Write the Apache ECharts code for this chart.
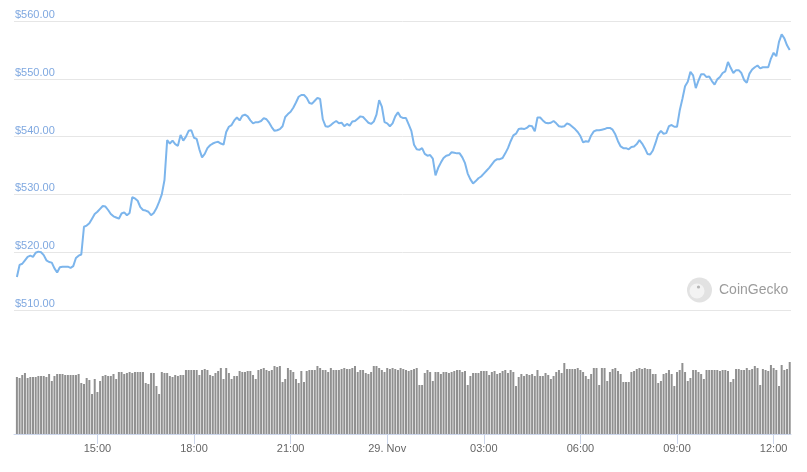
<!DOCTYPE html>
<html><head><meta charset="utf-8">
<script src="https://cdn.jsdelivr.net/npm/echarts@6.0.0/dist/echarts.min.js"></script>
<style>html,body{margin:0;padding:0;background:#fff}#c{width:807px;height:472px}</style>
</head><body><div id="c"></div>
<script>
// Time of first sample: 28 Nov 12:30 (hours), 5-minute samples
const startHour = 12.5;
const stepMinutes = 5;

const prices = [
515.7,517.8,518.0,518.6,519.2,519.4,519.2,519.9,520.1,520.0,
519.5,518.6,518.3,518.2,517.2,516.5,517.4,517.5,517.5,517.5,
517.3,517.6,519.0,519.4,519.6,524.4,524.6,525.0,525.8,526.6,
527.0,527.5,528.0,527.9,527.3,526.6,526.2,526.0,525.8,526.7,
526.9,526.4,526.8,529.5,529.3,528.9,527.8,527.3,527.2,527.0,
526.4,526.8,527.6,528.7,530.0,532.5,539.4,538.8,539.3,538.7,
538.4,540.3,539.3,540.0,541.0,541.1,539.8,539.6,537.8,536.4,
537.0,538.0,538.5,538.8,539.0,539.1,538.8,538.6,540.8,541.7,
542.0,542.8,543.3,542.8,543.6,543.8,543.5,542.8,542.3,542.5,
542.5,542.7,543.2,543.0,542.4,541.6,541.0,541.1,541.3,541.8,
543.4,543.9,544.3,545.0,545.9,546.9,547.2,547.2,546.7,545.8,
545.7,546.2,546.7,546.5,543.0,541.8,541.7,542.0,542.4,542.7,
542.3,542.4,541.8,542.2,541.9,542.6,542.7,543.1,543.5,543.4,
542.9,542.4,542.2,542.6,543.8,546.3,545.2,542.5,542.3,541.8,
542.3,543.5,544.2,543.4,543.2,543.2,542.1,541.0,538.6,537.8,
537.7,538.0,537.0,536.7,536.8,536.2,533.3,534.6,535.5,536.3,
536.7,536.8,537.3,537.2,537.1,537.1,536.4,535.4,533.6,532.6,
531.9,532.3,532.8,533.1,533.6,534.1,534.6,535.2,535.8,536.1,
536.1,536.3,537.1,538.0,539.2,540.2,540.5,541.3,541.4,541.3,
541.5,541.9,541.8,540.9,543.3,543.3,542.8,542.4,542.3,542.4,
542.7,542.3,541.8,541.7,541.8,542.3,542.1,541.7,541.3,540.8,
540.1,539.0,539.2,539.1,540.2,540.9,541.1,541.1,541.2,541.3,
541.5,541.5,541.2,540.4,539.2,538.3,538.0,538.0,537.8,538.2,
538.3,538.7,539.4,538.8,538.0,537.0,536.9,537.6,538.9,540.4,
541.0,540.5,540.6,541.8,542.0,541.7,541.7,544.5,546.5,548.7,
549.5,551.2,550.6,548.4,549.7,550.8,550.8,550.3,550.4,549.6,
549.0,549.9,550.3,551.0,551.3,552.9,551.9,551.0,551.5,551.5,
551.0,549.8,549.3,550.9,551.6,552.0,552.3,551.8,552.0,552.0,
552.0,553.5,554.5,553.9,556.4,557.7,557.0,555.8,555.0
];

const volumes = [
57,56,59,61,56,57,57,57,58,58,58,57,
60,53,58,60,60,60,59,59,59,59,59,60,
51,50,56,54,40,55,42,53,58,59,58,58,
60,55,62,62,60,61,62,61,62,62,62,62,
51,50,61,61,48,40,62,61,61,58,57,59,
58,59,59,64,64,64,64,64,59,64,65,64,
59,58,61,63,66,55,66,61,55,58,58,63,
62,62,63,63,59,55,64,65,66,64,63,64,
68,67,68,52,55,66,64,62,55,51,63,52,
63,64,64,64,68,66,64,64,62,66,64,64,
64,65,66,65,65,66,68,62,64,64,61,60,
62,68,68,66,64,62,66,65,66,65,64,
66,65,64,63,64,65,66,49,49,61,64,62,
53,62,62,60,62,62,61,62,63,64,64,62,
63,49,58,61,61,61,63,63,63,59,62,63,
60,61,63,64,61,64,62,48,57,60,58,60,
59,60,58,64,58,58,61,59,55,58,62,64,
61,71,65,65,65,65,66,64,62,58,55,60,
66,66,49,66,66,53,62,65,66,63,60,52,
52,52,62,63,65,66,65,66,65,65,60,60,
51,53,60,61,64,60,48,62,64,71,62,53,
56,64,64,62,60,55,64,64,64,64,64,63,
64,64,63,52,55,65,65,64,64,66,64,65,
68,66,49,65,64,63,69,66,64,48,69,64,
65,72
];

const tickHours = [15, 18, 21, 24, 27, 30, 33, 36];
const priceMin = 510, priceMax = 560, priceStep = 10;

const hourAt = i => startHour + i * stepMinutes / 60;
const priceData = prices.map((p, i) => [hourAt(i), p]);
const volumeData = volumes.map((v, i) => [hourAt(i), v]);

const xMin = 12.41, xMax = 36.54;
const fontFam = '"Liberation Sans", Arial, sans-serif';

function hourLabel(h) {
  if (h === 24) return '29. Nov';
  return String(h % 24).padStart(2, '0') + ':00';
}

const chart = echarts.init(document.getElementById('c'), null, {renderer: 'canvas'});
chart.setOption({
  animation: false,
  backgroundColor: '#ffffff',
  grid: [
    {left: 14, right: 16, top: 21, height: 289},
    {left: 14, right: 16, top: 359, height: 75}
  ],
  xAxis: [
    {gridIndex: 0, type: 'value', min: xMin, max: xMax, show: false},
    {gridIndex: 1, type: 'value', min: xMin, max: xMax,
     axisLine: {show: true, lineStyle: {color: '#ccd6eb', width: 1}},
     axisTick: {show: true, customValues: tickHours, length: 10, lineStyle: {color: '#ccd6eb'}},
     axisLabel: {customValues: tickHours, formatter: hourLabel, color: '#666666',
                 fontSize: 11, fontFamily: fontFam, margin: 9},
     splitLine: {show: false}}
  ],
  yAxis: [
    {gridIndex: 0, type: 'value', min: priceMin, max: priceMax, interval: priceStep,
     axisLine: {show: false}, axisTick: {show: false},
     axisLabel: {inside: true, margin: 1, verticalAlign: 'bottom', lineHeight: 12,
                 color: '#7fa8e0', fontSize: 11, fontFamily: fontFam,
                 formatter: v => '$' + v.toFixed(2)},
     splitLine: {show: true, lineStyle: {color: '#e6e6e6', width: 1}}},
    {gridIndex: 1, type: 'value', min: 0, max: 75, show: false, splitLine: {show: false}}
  ],
  series: [
    {type: 'line', xAxisIndex: 0, yAxisIndex: 0, data: priceData, showSymbol: false,
     lineStyle: {color: '#7cb5ec', width: 2}, itemStyle: {color: '#7cb5ec'}, z: 3},
    {type: 'bar', xAxisIndex: 1, yAxisIndex: 1, data: volumeData, barWidth: 2,
     itemStyle: {color: '#909090'}}
  ],
  graphic: [
    {type: 'circle', shape: {cx: 699.5, cy: 290, r: 12.5}, style: {fill: '#e2e2e2'}, z: 10},
    {type: 'circle', shape: {cx: 697, cy: 291, r: 7.5}, style: {fill: '#f3f3f3'}, z: 11},
    {type: 'circle', shape: {cx: 698.5, cy: 287, r: 1.6}, style: {fill: '#b5b5b5'}, z: 12},
    {type: 'text', x: 719, y: 283, style: {text: 'CoinGecko', fill: '#9c9c9c',
     font: '14px ' + fontFam}, z: 10}
  ]
});
</script></body></html>
